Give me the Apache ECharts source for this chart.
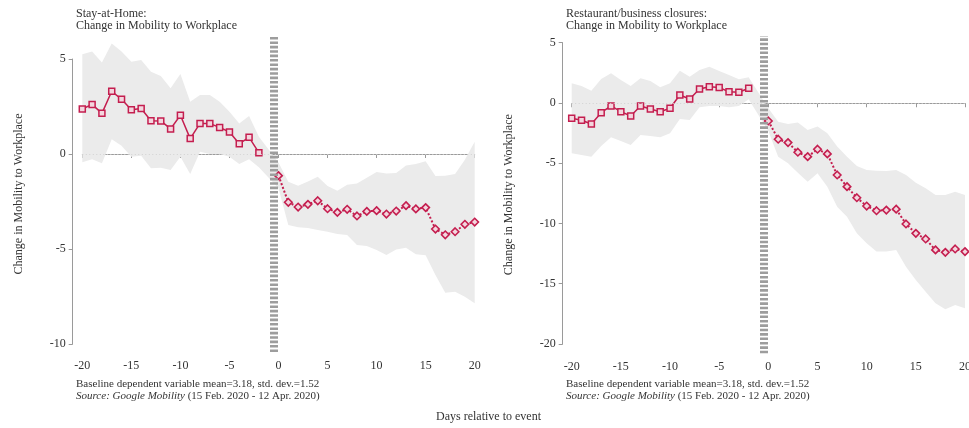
<!DOCTYPE html>
<html><head><meta charset="utf-8">
<script src="https://cdn.jsdelivr.net/npm/echarts@6/dist/echarts.min.js"></script>
<style>html,body{margin:0;padding:0;background:#fff}#c{width:969px;height:428px}</style>
</head><body><div id="c"></div>
<script>
// ---- data ----
const preDays  = [-20,-19,-18,-17,-16,-15,-14,-13,-12,-11,-10,-9,-8,-7,-6,-5,-4,-3,-2];
const postDays = [0,1,2,3,4,5,6,7,8,9,10,11,12,13,14,15,16,17,18,19,20];

// Left panel: Stay-at-Home
const leftPre  = [2.37,2.61,2.14,3.30,2.88,2.33,2.39,1.75,1.74,1.32,2.04,0.81,1.61,1.60,1.40,1.16,0.54,0.88,0.07];
const leftPost = [-1.14,-2.54,-2.79,-2.65,-2.46,-2.88,-3.07,-2.91,-3.26,-3.02,-2.98,-3.16,-3.00,-2.72,-2.89,-2.82,-3.95,-4.25,-4.09,-3.70,-3.58];
const leftUpperPre  = [5.25,5.39,4.82,5.82,5.39,4.86,4.95,4.33,4.10,3.46,4.21,2.75,3.10,3.10,2.75,2.23,1.61,2.00,0.91];
const leftUpperPost = [-0.45,-1.46,-1.67,-1.45,-1.20,-1.68,-1.93,-1.62,-1.55,-1.25,-0.95,-1.02,-1.00,-0.60,-0.53,-0.38,-1.16,-1.15,-1.05,-0.30,0.65];
const leftLowerPre  = [-0.44,-0.28,-0.49,0.77,0.44,-0.14,-0.09,-0.75,-0.72,-0.84,-0.14,-1.05,0.12,0.00,0.00,-0.14,-0.53,-0.28,-0.70];
const leftLowerPost = [-1.80,-3.74,-3.86,-3.90,-4.00,-4.09,-4.21,-4.26,-4.79,-4.84,-5.05,-5.32,-5.02,-4.93,-5.28,-5.33,-6.37,-7.30,-7.25,-7.51,-7.86];

// Right panel: Restaurant/business closures
const rightPre  = [-1.25,-1.41,-1.72,-0.78,-0.22,-0.70,-1.06,-0.22,-0.47,-0.70,-0.42,0.69,0.36,1.19,1.38,1.30,0.96,0.91,1.25];
const rightPost = [-1.47,-2.99,-3.27,-4.07,-4.44,-3.82,-4.21,-5.96,-6.93,-7.85,-8.54,-8.93,-8.88,-8.80,-10.03,-10.81,-11.28,-12.19,-12.39,-12.11,-12.33];
const rightUpperPre  = [1.66,1.44,1.05,2.02,2.49,1.94,1.44,2.08,1.85,1.33,1.66,2.71,2.21,2.77,3.04,2.68,2.35,2.00,2.16];
const rightUpperPost = [-0.42,-1.53,-1.72,-1.60,-2.22,-1.94,-2.49,-3.60,-4.44,-5.21,-5.54,-5.60,-5.62,-5.55,-5.96,-6.60,-7.07,-7.62,-7.62,-7.35,-7.62];
const rightLowerPre  = [-4.16,-4.30,-4.44,-3.55,-2.83,-3.13,-3.47,-2.63,-2.72,-2.83,-2.49,-1.31,-1.39,-0.33,-0.22,-0.22,-0.33,-0.22,0.33];
const rightLowerPost = [-2.30,-4.44,-4.99,-5.77,-6.52,-5.82,-6.93,-8.60,-9.43,-10.80,-11.64,-12.33,-12.33,-12.20,-13.58,-14.69,-15.66,-16.63,-17.12,-16.77,-17.04];

const leftYTicks  = [-10, 5];   // [min, max] of labelled left y axis
const rightYTicks = [-20, 5];
const eventLine = -0.5;

// ---- styles ----
const FONT = 'Liberation Serif';
const RED = '#c41e4f';
const TXT = '#333';
const AX = '#9a9a9a';

function pairs(xs, ys){ return xs.map((x,i)=>[x, ys[i]]); }

function bandSeries(xi, yi, days, up, lo){
  return {
    type:'custom', xAxisIndex:xi, yAxisIndex:yi, silent:true, z:1, data:[0],
    renderItem:function(params, api){
      const pts=[];
      for(let i=0;i<days.length;i++) pts.push(api.coord([days[i], up[i]]));
      for(let i=days.length-1;i>=0;i--) pts.push(api.coord([days[i], lo[i]]));
      return {type:'polygon', shape:{points:pts}, style:{fill:'#ebebeb'}};
    }
  };
}
function guideSeries(xi, yi){
  return {
    type:'line', xAxisIndex:xi, yAxisIndex:yi, data:[], silent:true, z:2,
    markLine:{silent:true, symbol:['none','none'], label:{show:false}, animation:false,
      data:[
        {yAxis:0, lineStyle:{color:'#d2d2d2', width:1, type:[1,2.5]}},
        {xAxis:eventLine, lineStyle:{color:'#9d9d9d', width:8, type:[2.6,1.8]}}
      ]}
  };
}
function preSeries(xi, yi, vals){
  return {type:'line', xAxisIndex:xi, yAxisIndex:yi, data:pairs(preDays, vals), z:4,
    symbol:'rect', symbolSize:6, showSymbol:true,
    lineStyle:{color:RED, width:1.5},
    itemStyle:{color:'#f3d6de', borderColor:RED, borderWidth:1.5}, animation:false};
}
function postSeries(xi, yi, vals){
  return {type:'line', xAxisIndex:xi, yAxisIndex:yi, data:pairs(postDays, vals), z:4,
    symbol:'diamond', symbolSize:7.5, showSymbol:true,
    lineStyle:{color:RED, width:2, type:'dotted'},
    itemStyle:{color:'#f3d6de', borderColor:RED, borderWidth:1.6}, animation:false};
}

const allDays = preDays.concat(postDays);
const labelStyle = {fontFamily:FONT, fontSize:12, color:TXT};
const noteText = 'Baseline dependent variable mean=3.18, std. dev.=1.52\n{i|Source: Google Mobility} (15 Feb. 2020 - 12 Apr. 2020)';
const noteStyle = {fontFamily:FONT, fontSize:11, fontWeight:'normal', color:TXT, lineHeight:12,
  rich:{i:{fontFamily:FONT, fontSize:11, fontStyle:'italic', color:TXT, lineHeight:12}}};

const option = {
  animation:false,
  backgroundColor:'#fff',
  textStyle:{fontFamily:FONT},
  title:[
    {text:'Stay-at-Home:\nChange in Mobility to Workplace', left:76, top:8, padding:0,
      textStyle:{fontFamily:FONT, fontSize:12, fontWeight:'normal', color:TXT, lineHeight:12}},
    {text:'Restaurant/business closures:\nChange in Mobility to Workplace', left:566, top:8, padding:0,
      textStyle:{fontFamily:FONT, fontSize:12, fontWeight:'normal', color:TXT, lineHeight:12}},
    {text:noteText, left:76, top:378, padding:0, textStyle:noteStyle},
    {text:noteText, left:566, top:378, padding:0, textStyle:noteStyle},
    {text:'Days relative to event', left:436, top:411, padding:0,
      textStyle:{fontFamily:FONT, fontSize:12, fontWeight:'normal', color:TXT}}
  ],
  grid:[
    {left:82.3, top:36, width:392.4, height:316, containLabel:false, outerBoundsMode:'none'},
    {left:72.7, top:59, width:10, height:285, containLabel:false, outerBoundsMode:'none'},
    {left:571.7, top:36, width:393.3, height:317.3, containLabel:false, outerBoundsMode:'none'},
    {left:562.7, top:42.7, width:10, height:301.3, containLabel:false, outerBoundsMode:'none'}
  ],
  xAxis:[
    {gridIndex:0, type:'value', min:-20, max:20, interval:5,
      axisLine:{lineStyle:{color:AX}}, axisTick:{length:4, lineStyle:{color:AX}},
      axisLabel:Object.assign({margin:8}, labelStyle), splitLine:{show:false}},
    {gridIndex:1, type:'value', min:0, max:1, show:false},
    {gridIndex:2, type:'value', min:-20, max:20, interval:5,
      axisLine:{lineStyle:{color:AX}}, axisTick:{length:4, lineStyle:{color:AX}},
      axisLabel:Object.assign({margin:8}, labelStyle), splitLine:{show:false}},
    {gridIndex:3, type:'value', min:0, max:1, show:false}
  ],
  yAxis:[
    {gridIndex:0, type:'value', min:-10.42, max:6.21, offset:9.6,
      axisLine:{show:false}, axisTick:{show:false}, axisLabel:{show:false}, splitLine:{show:false},
      name:'Change in Mobility to Workplace', nameLocation:'middle', nameGap:48,
      nameTextStyle:{fontFamily:FONT, fontSize:12, color:TXT}},
    {gridIndex:1, type:'value', min:leftYTicks[0], max:leftYTicks[1], interval:5,
      axisLine:{show:true, lineStyle:{color:AX}}, axisTick:{show:true, length:4, lineStyle:{color:AX}},
      axisLabel:Object.assign({margin:7}, labelStyle), splitLine:{show:false}},
    {gridIndex:2, type:'value', min:-20.78, max:5.59, offset:9,
      axisLine:{show:false}, axisTick:{show:false}, axisLabel:{show:false}, splitLine:{show:false},
      name:'Change in Mobility to Workplace', nameLocation:'middle', nameGap:48,
      nameTextStyle:{fontFamily:FONT, fontSize:12, color:TXT}},
    {gridIndex:3, type:'value', min:rightYTicks[0], max:rightYTicks[1], interval:5,
      axisLine:{show:true, lineStyle:{color:AX}}, axisTick:{show:true, length:4, lineStyle:{color:AX}},
      axisLabel:Object.assign({margin:7}, labelStyle), splitLine:{show:false}}
  ],
  series:[
    bandSeries(0,0, allDays, leftUpperPre.concat(leftUpperPost), leftLowerPre.concat(leftLowerPost)),
    guideSeries(0,0),
    preSeries(0,0,leftPre),
    postSeries(0,0,leftPost),
    bandSeries(2,2, allDays, rightUpperPre.concat(rightUpperPost), rightLowerPre.concat(rightLowerPost)),
    guideSeries(2,2),
    preSeries(2,2,rightPre),
    postSeries(2,2,rightPost)
  ]
};
const chart = echarts.init(document.getElementById('c'));
chart.setOption(option);
</script></body></html>
